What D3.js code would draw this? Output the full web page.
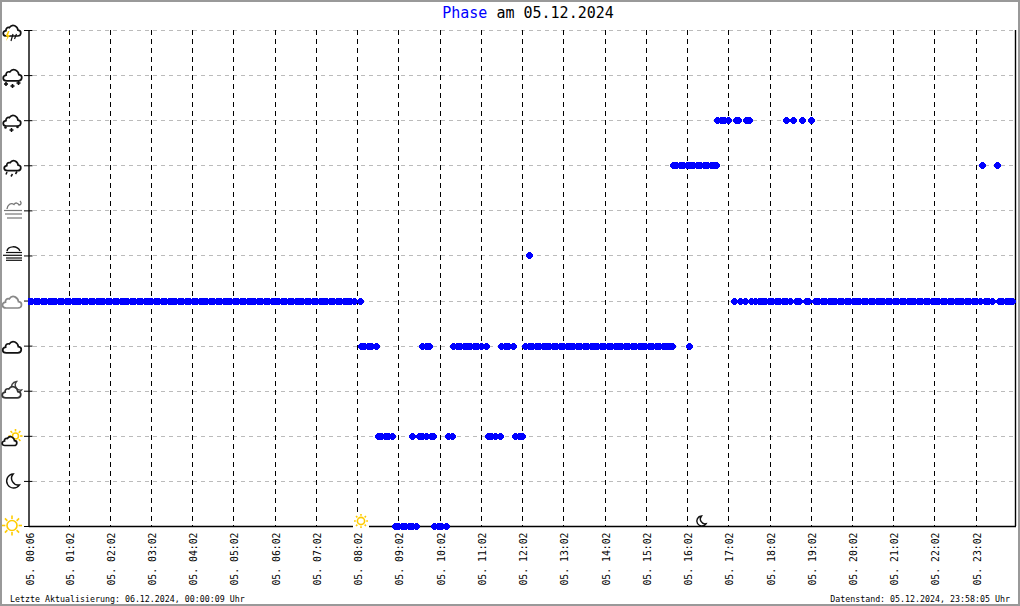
<!DOCTYPE html>
<html><head><meta charset="utf-8">
<script src="https://cdnjs.cloudflare.com/ajax/libs/d3/7.8.5/d3.min.js"></script>
<style>html,body{margin:0;padding:0;background:#fff}svg{display:block}text{font-family:"DejaVu Sans Mono","Liberation Mono",monospace}</style>
</head><body><svg id="c" width="1020" height="606"></svg>
<script>
const hourLabels=["05. 00:06","05. 01:02","05. 02:02","05. 03:02","05. 04:02","05. 05:02","05. 06:02","05. 07:02","05. 08:02","05. 09:02","05. 10:02","05. 11:02","05. 12:02","05. 13:02","05. 14:02","05. 15:02","05. 16:02","05. 17:02","05. 18:02","05. 19:02","05. 20:02","05. 21:02","05. 22:02","05. 23:02"];
const hourSlots=[0,12,24,36,48,60,72,84,96,108,120,132,144,156,168,180,192,204,216,228,240,252,264,276];
const levels=[0,1,2,3,4,5,6,7,8,9,10,11];
// slot positions (5-minute sample numbers) at which each weather phase was reported
const phaseClear=[107,108,109,110,111,112,113,118.5,119.5,120.5,122];
const phaseSunCloud=[102,103,104,105,106,112,114,115,116,117.5,118,122.5,123.5,134,135,136,137.6,142,143,144];
const phaseCloud=[97,98,99,100,101.5,115,116,117,124,125,126,127,128,129,130,131,132,133.6,138,139,140,141.4,145,146,147,148,149,150,151,152,153,154,155,156,157,158,159,160,161,162,163,164,165,166,167,168,169,170,171,172,173,174,175,176,177,178,179,180,181,182,183,184,185,186,187,187.8,192.7];
const phaseOvercast=[0,1,2,3,4,5,6,7,8,9,10,11,12,13,14,15,16,17,18,19,20,21,22,23,24,25,26,27,28,29,30,31,32,33,34,35,36,37,38,39,40,41,42,43,44,45,46,47,48,49,50,51,52,53,54,55,56,57,58,59,60,61,62,63,64,65,66,67,68,69,70,71,72,73,74,75,76,77,78,79,80,81,82,83,84,85,86,87,88,89,90,91,92,93,94,95,96.8,205.7,207.6,209,210.8,212,213,214,215,216,217,218,219,220,221,222,224,224.8,226.7,227.5,229.4,230.4,231.4,232.4,233.4,234.4,235.4,236.4,237.4,238.4,239.4,240.4,241.4,242.4,243.4,244.4,245.4,246.4,247.4,248.4,249.4,250.4,251.4,252.4,253.4,254.4,255.4,256.4,257.4,258.4,259.4,260.4,261.4,262.4,263.4,264.4,265.4,266.4,267.4,268.4,269.4,270.4,271.4,272.4,273.4,274.4,275.4,276.4,277.4,279,280,281,283,284,285,286,287];
const phaseFog=[146.2];
const phaseRain=[188,189,190,191,192,193,194,195,196,197,198,199,200,200.6,278.1,282.5];
const phaseSleet=[201,202,203,204,206.4,207,209.4,210.2,220.9,223,225.7,228.4];
const phaseSeries=[{level:0,slots:phaseClear},{level:2,slots:phaseSunCloud},{level:4,slots:phaseCloud},{level:5,slots:phaseOvercast},{level:6,slots:phaseFog},{level:8,slots:phaseRain},{level:9,slots:phaseSleet}];

const svg=d3.select("#c");
const L=28.5,R=1015.5,T=30,B=526;
const x=d3.scaleLinear().domain([0,287.3]).range([28.3,R]);
const markX=d3.scaleLinear().domain([0,288]).range([28.5,1016.4]);
const y=d3.scaleLinear().domain([0,11]).range([B,T]);
const crisp=s=>s.attr("shape-rendering","crispEdges");

// frame
crisp(svg.append("rect").attr("x",1).attr("y",1).attr("width",1018).attr("height",604).attr("fill","#fff").attr("stroke","#999").attr("stroke-width",2));

// grids
crisp(svg.append("g").selectAll("line").data(levels.slice(1)).join("line")
 .attr("x1",L+4).attr("x2",R).attr("y1",d=>Math.round(y(d))+.5).attr("y2",d=>Math.round(y(d))+.5)
 .attr("stroke","#bbb").attr("stroke-dasharray","4 4"));
crisp(svg.append("g").selectAll("line").data(hourSlots.slice(1)).join("line")
 .attr("x1",d=>Math.round(x(d))-.5).attr("x2",d=>Math.round(x(d))-.5).attr("y1",T).attr("y2",B)
 .attr("stroke","#000").attr("stroke-dasharray","5 4"));

// axes
const ay=svg.append("g").attr("transform",`translate(${L},0)`).call(d3.axisLeft(y).tickValues(levels).tickFormat("").tickSize(4.5).tickSizeOuter(0));
ay.selectAll("line").attr("stroke","#000").attr("x2",-4.5).attr("x1",4);
ay.select(".domain").attr("stroke","#000").attr("stroke-width",1.4);
const ax=svg.append("g").attr("transform",`translate(0,${B})`).call(d3.axisBottom(x).tickValues([]).tickSizeOuter(0));
ax.select(".domain").attr("stroke","#000").attr("stroke-width",1.4);
svg.append("line").attr("x1",R).attr("x2",R).attr("y1",T).attr("y2",B).attr("stroke","#000").attr("stroke-width",1.4);

// icons
const ink="#111",grey="#777",yel="#fc0";
function cloud(g,cx,cy,w,col,sw=1.7){
 const k=w/18;
 g.append("path").attr("transform",`translate(${cx-9*k},${cy-6*k}) scale(${k})`)
  .attr("d","M3.5,12 H14.5 C18.6,12 19,6.6 15,6.2 C14.6,2.4 9.6,-1 6.4,3.6 C4.4,2.8 2.6,4.6 3,6.6 C-1,7.4 -0.6,12 3.5,12 Z")
  .attr("fill","#fff").attr("stroke",col).attr("stroke-width",sw/k);
}
function sun(g,cx,cy,r,rr){
 const a=d3.range(8).map(i=>i*Math.PI/4);
 g.append("g").selectAll("line").data(a).join("line")
  .attr("x1",d=>cx+(r+1.6)*Math.cos(d)).attr("y1",d=>cy+(r+1.6)*Math.sin(d))
  .attr("x2",d=>cx+rr*Math.cos(d)).attr("y2",d=>cy+rr*Math.sin(d))
  .attr("stroke",yel).attr("stroke-width",1.6);
 g.append("circle").attr("cx",cx).attr("cy",cy).attr("r",r).attr("fill","#fff").attr("stroke",yel).attr("stroke-width",1.6);
}
function moon(g,cx,cy,r,col){
 g.append("path").attr("d",`M${cx+r*.1},${cy-r} A${r},${r} 0 1 0 ${cx+r},${cy+r*.55} A${r*.95},${r*.95} 0 0 1 ${cx+r*.1},${cy-r} Z`)
  .attr("fill","#fff").attr("stroke",col).attr("stroke-width",1.4);
}
function dots(g,pts,col,r){g.append("g").selectAll("circle").data(pts).join("circle").attr("cx",d=>d[0]).attr("cy",d=>d[1]).attr("r",r).attr("fill",col);}
function strokes(g,segs,col,sw){g.append("g").selectAll("line").data(segs).join("line").attr("x1",d=>d[0]).attr("y1",d=>d[1]).attr("x2",d=>d[2]).attr("y2",d=>d[3]).attr("stroke",col).attr("stroke-width",sw);}
const ic=svg.append("g");
cloud(ic,12,30,18,ink);
strokes(ic,[[13,34,11,41],[16.5,34,14.5,39]],ink,1.2);
ic.append("path").attr("d","M8,31 L5.5,36.5 L7.5,36.5 L6,41 L10,35 L8,35 L9.5,31 Z").attr("fill",yel);
cloud(ic,12.5,74.5,19,ink);
strokes(ic,[[4,84,8,84],[6,82,6,86],[10.5,86,14.5,86],[12.5,84,12.5,88],[16.5,83,20.5,83],[18.5,81,18.5,85]],ink,1.6);
cloud(ic,12,120,18,ink);
dots(ic,[[5.5,127.5],[17.5,127]],ink,1.3);
strokes(ic,[[9.5,130,13.5,130],[11.5,128,11.5,132]],ink,1.5);
cloud(ic,12.5,165,17,ink);
strokes(ic,[[7,172,6,174.5],[12.5,174,11,176.5],[17,171.5,15.5,174]],ink,1.5);
// fog with sun (grey)
ic.append("path").attr("d","M7,209 C7.5,205 11,202 14,204.5 C15.5,202 18,203 19,205 C21,205 22,203 20,201").attr("fill","none").attr("stroke",grey).attr("stroke-width",1.3);
strokes(ic,[[4,210.5,22,210.5],[5,214,22,214],[7,218,22,218]],grey,1.2);
// fog
ic.append("path").attr("d","M7,251 C8,246 17,245 20,251").attr("fill","none").attr("stroke",ink).attr("stroke-width",1.5);
strokes(ic,[[6,252.5,22,252.5],[3,255.3,22,255.3],[6,258,22,258],[6,260.3,22,260.3]],ink,1.2);
cloud(ic,12,301.5,19.5,"#888");
cloud(ic,12,346.5,19,ink);
moon(ic,16,387,5.5,"#444");
cloud(ic,11.5,391.5,19,"#333");
sun(ic,15.5,436,3,7);
cloud(ic,9.5,440.5,15,ink);
moon(ic,12.5,481,7,ink);
ic.append("rect").attr("x",2).attr("y",516).attr("width",21).attr("height",20).attr("fill","#fff");
sun(ic,12,525.5,5,10);
ic.append("rect").attr("x",353).attr("y",513).attr("width",16).attr("height",16).attr("fill","#fff");
sun(ic,361,521,3.6,7);
moon(ic,701,521,5,ink);

// marks: blocky octagon, rows 3,5,7,7,7,5,3
svg.append("clipPath").attr("id","plot").append("rect").attr("x",28).attr("y",20).attr("width",990).attr("height",516);
const blob={draw(c){
 c.moveTo(-1.5,-3.5);
 [[1.5,-3.5],[1.5,-2.5],[2.5,-2.5],[2.5,-1.5],[3.5,-1.5],[3.5,1.5],[2.5,1.5],[2.5,2.5],[1.5,2.5],[1.5,3.5],[-1.5,3.5],[-1.5,2.5],[-2.5,2.5],[-2.5,1.5],[-3.5,1.5],[-3.5,-1.5],[-2.5,-1.5],[-2.5,-2.5],[-1.5,-2.5]].forEach(p=>c.lineTo(p[0],p[1]));
 c.closePath();
}};
const marker=d3.symbol().type(blob);
const marks=svg.append("g").attr("clip-path","url(#plot)");
phaseSeries.forEach(s=>{
 crisp(marks.append("g").selectAll("path").data(s.slots).join("path")
  .attr("d",marker).attr("transform",d=>`translate(${Math.floor(markX(d))+.5},${Math.round(y(s.level))+.5})`).attr("fill","#0000ff"));
});

// tick labels
svg.append("g").selectAll("text").data(hourSlots).join("text")
 .attr("transform",(d,i)=>`translate(${Math.round(x(d))+3.5+(i?0:2.5)},532.5) rotate(-90)`)
 .attr("text-anchor","end").attr("font-size",9.8).attr("fill","#000").text((d,i)=>hourLabels[i]);

// title
const t=svg.append("text").attr("x",528).attr("y",18).attr("text-anchor","middle").attr("font-size",15).attr("fill","#000");
t.append("tspan").attr("fill","#0000ff").text("Phase");
t.append("tspan").text(" am 05.12.2024");
// footer
svg.append("text").attr("x",10).attr("y",602).attr("font-size",8.3).text("Letzte Aktualisierung: 06.12.2024, 00:00:09 Uhr");
svg.append("text").attr("x",1010).attr("y",602).attr("text-anchor","end").attr("font-size",8.3).text("Datenstand: 05.12.2024, 23:58:05 Uhr");
</script></body></html>
